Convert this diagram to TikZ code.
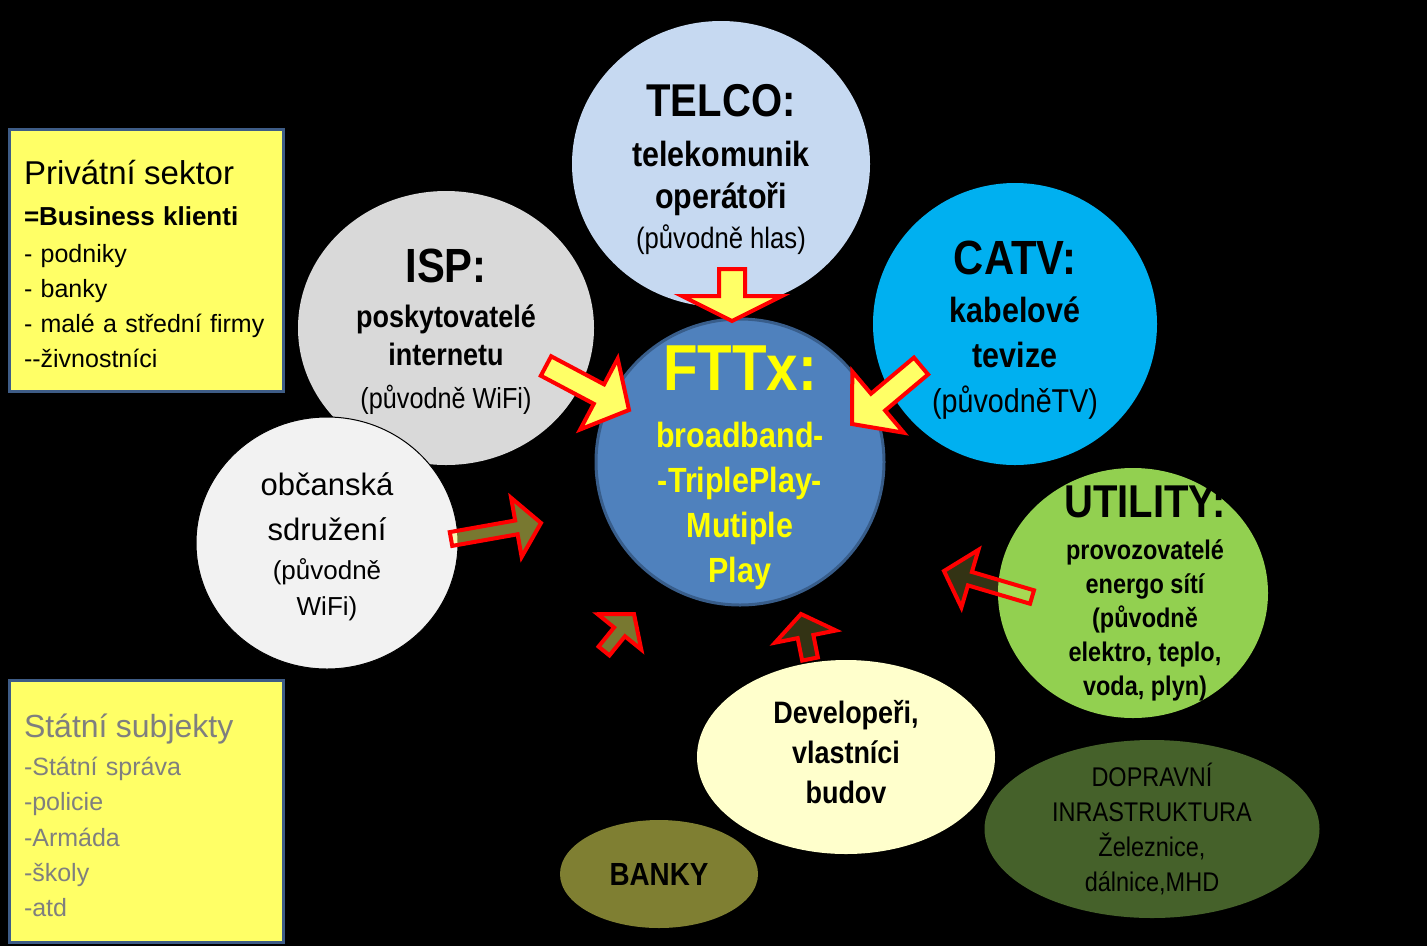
\documentclass[tikz,border=0pt]{standalone}
\usepackage{fontspec}
\setmainfont{Liberation Sans}
\newfontfamily\narrowfont{Liberation Sans}[FakeStretch=0.87]
\usetikzlibrary{calc,shapes.geometric}
\definecolor{boxyellow}{HTML}{FFFF66}
\definecolor{boxedge}{HTML}{3E5C86}
\definecolor{statgray}{HTML}{7F7F7F}
\definecolor{telcoblue}{HTML}{C6D9F1}
\definecolor{ispgray}{HTML}{D9D9D9}
\definecolor{catvblue}{HTML}{00B0F0}
\definecolor{fttxblue}{HTML}{4F81BD}
\definecolor{fttxedge}{HTML}{385D8A}
\definecolor{obcwhite}{HTML}{F2F2F2}
\definecolor{utilgreen}{HTML}{92D050}
\definecolor{devcream}{HTML}{FFFFCC}
\definecolor{bankolive}{HTML}{7F7F32}
\definecolor{roadgreen}{HTML}{45612A}
\definecolor{arrowred}{HTML}{FF0000}
\definecolor{arrowyellow}{HTML}{FFFF66}
\definecolor{fttxtext}{HTML}{FFFF00}
\tikzset{
  fatshaft/.store in=\fatshaft,
  fathead/.store in=\fathead,
  fatheadlen/.store in=\fatheadlen,
  fatshaft=12, fathead=40, fatheadlen=34,
  blockarrow/.style={
    draw=arrowred,
    line width=4pt,
    fill=#1
  },
  blockarrow/.default=arrowyellow,
  palearrow/.style={
    blockarrow,
    fill opacity=0.47
  },
  faintarrow/.style={
    blockarrow,
    fill opacity=0.2
  },
  bubble/.style={
    ellipse,
    inner sep=0pt
  },
  bubbletext/.style={
    align=center,
    inner sep=0pt
  },
  infobox/.style={
    draw=boxedge,
    fill=boxyellow,
    line width=3pt,
    align=left,
    text width=245pt,
    minimum height=262pt,
    inner xsep=14.5pt,
    font=\fontsize{25}{35}\selectfont
  }
}
% block arrow from #2 to #3
\newcommand\fatarrow[3][]{%
  \draw[blockarrow,#1] let \p1=(#2), \p2=(#3),
      \n1={atan2(\y2-\y1,\x2-\x1)}, \n2={veclen(\x2-\x1,\y2-\y1)} in
    ($(\p1)+(\n1+90:\fatshaft)$) -- ++(\n1:\n2-\fatheadlen)
    -- ++(\n1+90:\fathead-\fatshaft) -- (\p2)
    -- ($(\p1)+(\n1:\n2-\fatheadlen)+(\n1-90:\fathead)$)
    -- ++(\n1+90:\fathead-\fatshaft)
    -- ($(\p1)+(\n1-90:\fatshaft)$) -- cycle;
}

\begin{document}
\begin{tikzpicture}[x=1pt, y=1pt]

  \fill[black] (0,0) rectangle (1427,-946);
  \useasboundingbox (0,0) rectangle (1427,-946);

  % side boxes
  \node[infobox] (private) at (146.5,-260.5) {
    \rule{0pt}{32pt}{\fontsize{33}{35}\selectfont Privátní sektor}\\[6pt]
    {\bfseries\fontsize{26}{35}\selectfont =Business klienti}\\[2pt]
    - podniky\\
    - banky\\
    - malé a střední firmy\\
    -{}-živnostníci
  };

  \node[infobox, text=statgray] (state) at (146.5,-811.5) {
    {\fontsize{32}{35}\selectfont Státní subjekty}\\[3pt]
    -Státní správa\\
    -policie\\[1pt]
    -Armáda\\
    -školy\\
    -atd\par\vspace{-7pt}
  };

  % bubbles
  \node[bubble, fill=ispgray, minimum width=296pt, minimum height=274pt] (isp) at (446,-328) {};
  \node[bubble, fill=obcwhite, draw=black, line width=1pt, minimum width=262pt, minimum height=252pt] (obc) at (327,-543) {};
  \node[bubble, fill=telcoblue, minimum width=298pt, minimum height=286pt] (telco) at (721,-164) {};
  \node[bubble, fill=catvblue, minimum width=284pt, minimum height=282pt] (catv) at (1015,-324) {};
  \node[bubble, fill=utilgreen, minimum width=270pt, minimum height=250pt] (utility) at (1133,-593) {};
  \node[bubble, fill=fttxblue, draw=fttxedge, line width=3pt, minimum width=288pt, minimum height=286pt] (fttx) at (740,-462) {};
  \node[bubble, fill=devcream, minimum width=298pt, minimum height=194pt] (dev) at (846,-757) {};
  \node[bubble, fill=bankolive, minimum width=198pt, minimum height=108pt] (bank) at (659,-874) {};
  \node[bubble, fill=roadgreen, minimum width=335pt, minimum height=178pt] (road) at (1152,-829) {};

  % bubble texts
  \node[bubbletext, font=\narrowfont\bfseries\fontsize{35}{37}\selectfont, yshift=-5pt] (telcotext) at (telco) {
    {\fontsize{46}{46}\selectfont TELCO:}\\[13pt]
    telekomunik\\[5pt]
    operátoři\\[3pt]
    {\mdseries\fontsize{29.5}{30}\selectfont (původně hlas)}
  };
  \node[bubbletext, font=\narrowfont\bfseries\fontsize{31}{38}\selectfont, yshift=-3.5pt] (isptext) at (isp) {
    {\fontsize{48}{48}\selectfont ISP:}\\[7pt]
    poskytovatelé\\
    internetu\\[5pt]
    {\mdseries\fontsize{29}{30}\selectfont (původně WiFi)}
  };
  \node[bubbletext, font=\narrowfont\bfseries\fontsize{35}{42}\selectfont, yshift=-6pt] (catvtext) at (catv) {
    {\fontsize{48}{48}\selectfont CATV:}\\[6pt]
    kabelové\\[3pt]
    tevize\\[3pt]
    {\mdseries\fontsize{33}{35}\selectfont (původněTV)}
  };
  \node[bubbletext, text=fttxtext, font=\narrowfont\bfseries\fontsize{35}{45}\selectfont, yshift=-6pt] (fttxtext) at (fttx) {
    {\fontsize{65}{65}\selectfont FTTx:}\\[12pt]
    broadband-\\
    -TriplePlay-\\
    Mutiple\\
    Play
  };
  \node[bubbletext, font=\fontsize{26}{37.5}\selectfont, yshift=-4pt] (obctext) at (obc) {
    {\fontsize{31}{33}\selectfont občanská}\\[8pt]
    {\fontsize{31}{33}\selectfont sdružení}\\[1pt]
    (původně\\[-1pt]
    WiFi)
  };
  \node[bubbletext, font=\narrowfont\bfseries\fontsize{27}{34}\selectfont, xshift=12pt] (utiltext) at (utility) {
    {\fontsize{46}{46}\selectfont UTILITY:}\\[8pt]
    provozovatelé\\
    energo sítí\\
    (původně\\
    elektro, teplo,\\
    voda, plyn)
  };
  \node[bubbletext, font=\narrowfont\bfseries\fontsize{31}{40}\selectfont, yshift=5pt] (devtext) at (dev) {
    Developeři,\\
    vlastníci\\
    budov
  };
  \node[bubbletext, font=\narrowfont\bfseries\fontsize{32}{34}\selectfont] (banktext) at (bank) {BANKY};
  \node[bubbletext, font=\narrowfont\fontsize{27}{35}\selectfont] (roadtext) at (road) {
    DOPRAVNÍ\\
    INRASTRUKTURA\\
    Železnice,\\
    dálnice,MHD
  };

  % arrow ends
  \coordinate (telcofrom) at (732,-269);
  \coordinate (telcoto) at (732,-321);
  \coordinate (ispfrom) at (546,-366);
  \coordinate (ispto) at (629,-410);
  \coordinate (catvfrom) at (921,-366);
  \coordinate (catvto) at (852,-424);
  \coordinate (obcfrom) at (451,-539);
  \coordinate (obcto) at (541,-523);
  \coordinate (bankfrom) at (604,-651);
  \coordinate (bankto) at (634,-614);
  \coordinate (devfrom) at (810,-659);
  \coordinate (devto) at (801,-614);
  \coordinate (utilfrom) at (1032,-597);
  \coordinate (utilto) at (944,-571);

  \fatarrow[fatshaft=13, fathead=50, fatheadlen=25]{telcofrom}{telcoto}
  \fatarrow[fatshaft=11, fathead=40, fatheadlen=34]{ispfrom}{ispto}
  \fatarrow[fatshaft=11, fathead=40, fatheadlen=34]{catvfrom}{catvto}
  \fatarrow[palearrow, fatshaft=7, fathead=30, fatheadlen=25]{obcfrom}{obcto}
  \fatarrow[palearrow, fatshaft=7, fathead=28, fatheadlen=23]{bankfrom}{bankto}
  \fatarrow[faintarrow, fatshaft=8, fathead=31, fatheadlen=23]{devfrom}{devto}
  \fatarrow[faintarrow, fatshaft=7, fathead=30, fatheadlen=27]{utilfrom}{utilto}
\end{tikzpicture}
\end{document}
